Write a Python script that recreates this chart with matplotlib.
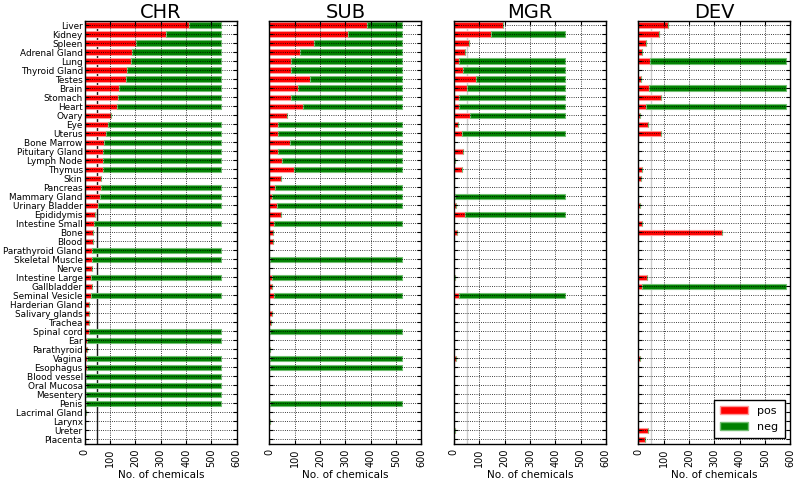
import matplotlib
matplotlib.use("Agg")
import matplotlib.pyplot as plt
from matplotlib.patches import Patch

tissues = ["Liver", "Kidney", "Spleen", "Adrenal Gland", "Lung", "Thyroid Gland",
           "Testes", "Brain", "Stomach", "Heart", "Ovary", "Eye", "Uterus",
           "Bone Marrow", "Pituitary Gland", "Lymph Node", "Thymus", "Skin",
           "Pancreas", "Mammary Gland", "Urinary Bladder", "Epididymis",
           "Intestine Small", "Bone", "Blood", "Parathyroid Gland",
           "Skeletal Muscle", "Nerve", "Intestine Large", "Gallbladder",
           "Seminal Vesicle", "Harderian Gland", "Salivary glands", "Trachea",
           "Spinal cord", "Ear", "Parathyroid", "Vagina", "Esophagus",
           "Blood vessel", "Oral Mucosa", "Mesentery", "Penis", "Lacrimal Gland",
           "Larynx", "Ureter", "Placenta"]

chr_pos = [412, 322, 202, 188, 181, 167, 161, 135, 132, 127, 104, 91, 83, 76, 72, 71,
           70, 65, 63, 61, 51, 40, 36, 32, 32, 30, 30, 27, 26, 27, 26, 17, 16, 15,
           15, 10, 9, 9, 9, 6, 6, 3, 3, 3, 0, 0, 0]
chr_neg = [126, 216, 336, 350, 357, 371, 377, 403, 406, 411, 0, 447, 455, 462, 466, 467,
           468, 0, 475, 477, 487, 0, 502, 0, 0, 508, 508, 0, 512, 0, 512, 0, 0, 0,
           523, 528, 0, 529, 529, 532, 532, 535, 535, 0, 0, 0, 0]

sub_pos = [386, 310, 175, 122, 86, 87, 160, 114, 87, 132, 70, 36, 36, 82, 35, 48,
           99, 44, 23, 10, 29, 44, 18, 13, 16, 0, 3, 0, 10, 12, 18, 0, 12, 6,
           3, 0, 4, 4, 3, 0, 0, 0, 2, 0, 2, 0, 0]
sub_neg = [139, 215, 350, 403, 439, 438, 365, 411, 438, 393, 0, 489, 489, 443, 490, 477,
           426, 0, 502, 515, 496, 0, 507, 0, 0, 0, 522, 0, 515, 0, 507, 0, 0, 0,
           522, 0, 0, 521, 522, 0, 0, 0, 523, 0, 0, 0, 0]

mgr_pos = [193, 146, 59, 44, 19, 36, 89, 50, 19, 19, 65, 18, 31, 0, 35, 5,
           34, 0, 0, 4, 8, 45, 0, 14, 0, 0, 0, 0, 3, 0, 19, 0, 0, 0,
           0, 0, 0, 7, 0, 0, 0, 0, 0, 0, 0, 3, 0]
mgr_neg = [0, 292, 0, 0, 419, 402, 349, 388, 419, 419, 373, 0, 407, 0, 0, 0,
           0, 0, 0, 434, 0, 393, 0, 0, 0, 0, 0, 0, 0, 0, 419, 0, 0, 0,
           0, 0, 0, 0, 0, 0, 0, 0, 0, 0, 0, 0, 0]

dev_pos = [115, 82, 30, 16, 47, 0, 12, 42, 91, 29, 8, 39, 91, 0, 0, 0,
           16, 10, 0, 0, 7, 0, 16, 330, 0, 0, 0, 0, 33, 16, 0, 0, 0, 0,
           0, 0, 0, 7, 0, 0, 0, 0, 0, 0, 0, 37, 28]
dev_neg = [0, 0, 0, 0, 534, 0, 0, 539, 0, 552, 0, 0, 0, 0, 0, 0,
           0, 0, 0, 0, 0, 0, 0, 0, 0, 0, 0, 0, 0, 565, 0, 0, 0, 0,
           0, 0, 0, 0, 0, 0, 0, 0, 0, 0, 0, 0, 0]

studies = ["CHR", "SUB", "MGR", "DEV"]
pos_data = [chr_pos, sub_pos, mgr_pos, dev_pos]
neg_data = [chr_neg, sub_neg, mgr_neg, dev_neg]
line_colors = ["0.1", None, "0.8", "0.8"]

fig = plt.figure(figsize=(8, 4.8), dpi=100)
lefts = [0.106, 0.3367, 0.5673, 0.798]
ypos = list(range(len(tissues)))

for k, name in enumerate(studies):
    ax = fig.add_axes([lefts[k], 0.075, 0.19, 0.882])
    ax.barh(ypos, pos_data[k], height=0.6, color="#ff0000",
            edgecolor=(1, 0.6, 0.6), linewidth=0.8, label="pos")
    ax.barh(ypos, neg_data[k], left=pos_data[k], height=0.6, color="#008000",
            edgecolor=(0.45, 0.75, 0.45), linewidth=0.8, label="neg")
    if line_colors[k] is not None:
        ax.axvline(50, color=line_colors[k], linewidth=1, zorder=0.5)
    ax.set_ylim(len(tissues) - 0.5, -0.5)
    ax.set_xlim(0, 600)
    ax.set_xticks(range(0, 601, 100))
    ax.tick_params(axis="x", labelrotation=90, labelsize=7, direction="in",
                   top=True, length=3)
    ax.tick_params(axis="y", direction="in", right=True, length=3, labelsize=6.4,
                   pad=1.5)
    ax.set_yticks(ypos)
    if k == 0:
        ax.set_yticklabels(tissues)
    else:
        ax.set_yticklabels([])
    ax.grid(True, linestyle=":", color="k", linewidth=0.6)
    ax.set_axisbelow(False)
    ax.set_title(name, fontsize=14, pad=2)
    ax.set_xlabel("No. of chemicals", fontsize=7.5, labelpad=2)
    for sp in ax.spines.values():
        sp.set_linewidth(1)
    if k == 3:
        handles = [Patch(facecolor="#ff0000", edgecolor=(1, 0.6, 0.6)),
                   Patch(facecolor="#008000", edgecolor=(0.45, 0.75, 0.45))]
        ax.legend(handles, ["pos", "neg"], loc="lower right", fontsize=8,
                  fancybox=False, edgecolor="k", framealpha=1,
                  handlelength=2.5, borderpad=0.6)

fig.savefig("out.png", dpi=100)
